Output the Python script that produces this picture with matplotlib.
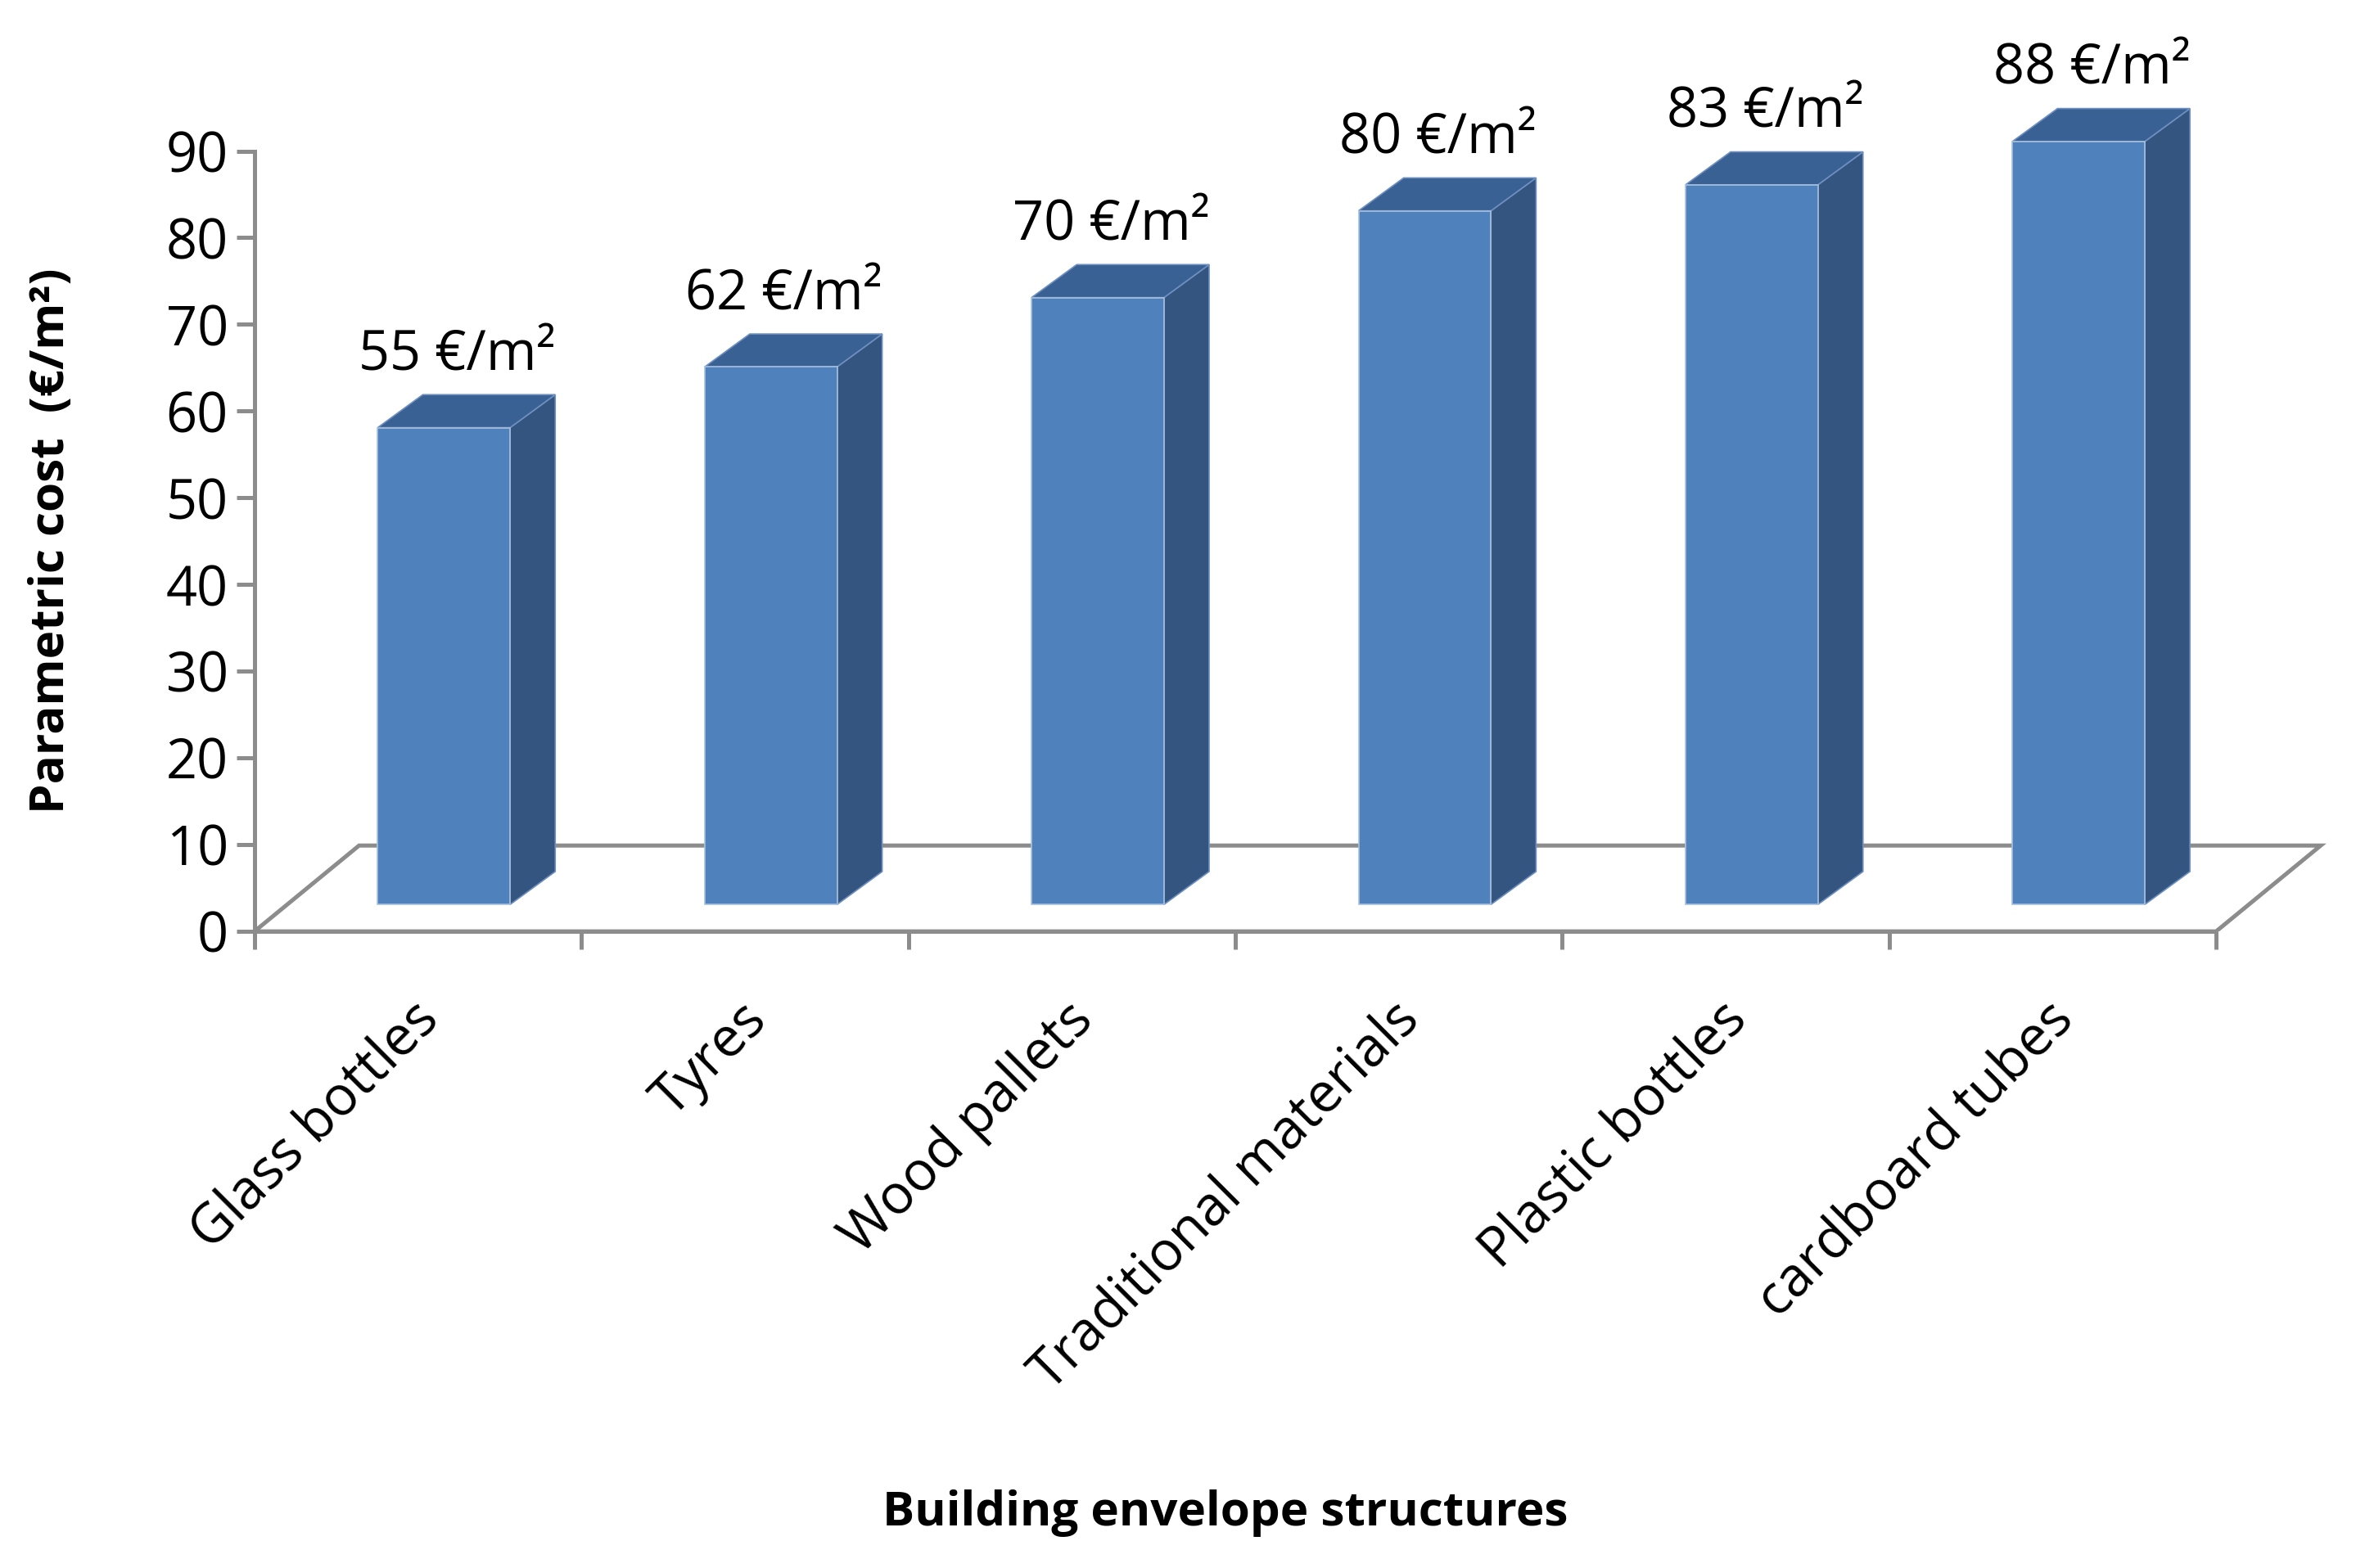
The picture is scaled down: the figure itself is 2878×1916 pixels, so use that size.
import matplotlib.pyplot as plt
from matplotlib.patches import Polygon

categories = ['Glass bottles', 'Tyres', 'Wood pallets', 'Traditional materials', 'Plastic bottles', 'cardboard tubes']
costs = [55, 62, 70, 80, 83, 88]

plt.rcParams['font.family'] = ['Open Sans', 'DejaVu Sans']
front_c, side_c, top_c = '#4F81BD', '#34557F', '#3A6193'

fig = plt.figure(figsize=(14.39, 9.58), dpi=200)
ax = fig.add_axes([0.108, 0.406, 0.902, 0.553])
ax.set_xlim(0, 6.5)
ax.set_ylim(0, 100)

# floor
base, ddx, ddy = 3.1, 0.138, 3.8
fx, fy = 0.32, 9.9
ax.add_patch(Polygon([(0, 0), (6, 0), (6 + fx, fy), (fx, fy)], closed=True,
                     facecolor='none', edgecolor='#8C8C8C', lw=1.8, zorder=1))

for i, v in enumerate(costs):
    x0, w = i + 0.377, 0.405
    y1 = base + v
    ax.add_patch(Polygon([(x0 + w, base), (x0 + w + ddx, base + ddy), (x0 + w + ddx, y1 + ddy), (x0 + w, y1)],
                         closed=True, facecolor=side_c, edgecolor='#6E8FBF', lw=0.6, zorder=2))
    ax.add_patch(Polygon([(x0, y1), (x0 + w, y1), (x0 + w + ddx, y1 + ddy), (x0 + ddx, y1 + ddy)],
                         closed=True, facecolor=top_c, edgecolor='#6E8FBF', lw=0.6, zorder=2))
    ax.add_patch(Polygon([(x0, base), (x0 + w, base), (x0 + w, y1), (x0, y1)],
                         closed=True, facecolor=front_c, edgecolor='#A9C0DE', lw=0.6, zorder=3))
    ax.text(i + 0.62, y1 + ddy + 1.3, f'{v} €/m²', ha='center', va='bottom', fontsize=24)
    ax.text(i + 0.48, -7, categories[i], rotation=45, rotation_mode='anchor',
            ha='right', va='top', fontsize=24)

for s in ['top', 'right']:
    ax.spines[s].set_visible(False)
for s in ['left', 'bottom']:
    ax.spines[s].set_color('#8C8C8C')
    ax.spines[s].set_linewidth(1.8)
ax.spines['left'].set_bounds(0, 90)
ax.spines['bottom'].set_bounds(0, 6)
ax.set_yticks(range(0, 91, 10))
ax.set_xticks(range(7))
ax.set_xticklabels([])
ax.tick_params(axis='y', labelsize=24, color='#8C8C8C', width=1.8, length=8)
ax.tick_params(axis='x', color='#8C8C8C', width=1.8, length=8)

fig.text(0.022, 0.655, 'Parametric cost  (€/m²)', rotation=90, ha='center', va='center',
         fontsize=21, fontweight='bold')
fig.text(0.52, 0.035, 'Building envelope structures', ha='center', va='center',
         fontsize=21, fontweight='bold')

fig.savefig('out.png')
